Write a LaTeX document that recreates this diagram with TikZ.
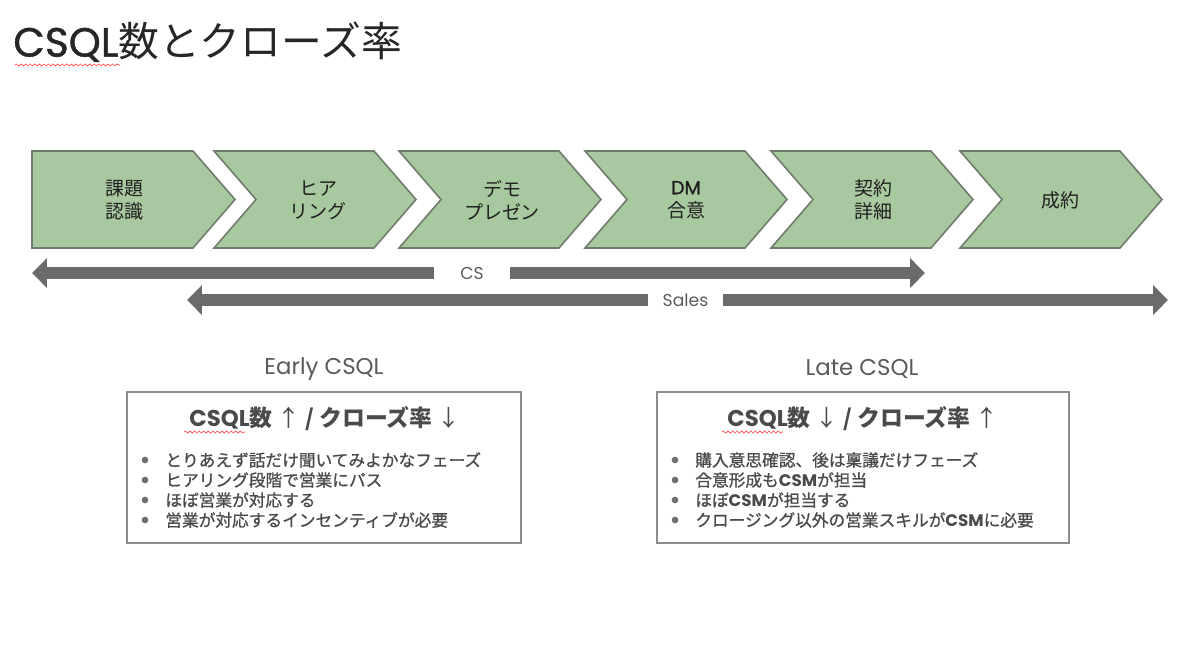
\documentclass[tikz,border=0pt]{standalone}
\usepackage{fontspec}
\setmainfont{Noto Sans CJK JP}
\newfontfamily\latin{Poppins}
\newfontfamily\latinmed[FakeBold=1.2]{Poppins}
\newfontfamily\cjkmed[FakeBold=0.9]{Noto Sans CJK JP}
\usetikzlibrary{arrows.meta,decorations.pathmorphing}

\definecolor{chevfill}{HTML}{A8C89F}
\definecolor{chevline}{HTML}{6F7B6B}
\definecolor{bargray}{HTML}{6B6B6B}
\definecolor{labgray}{HTML}{5A5A5A}
\definecolor{boxline}{HTML}{8C8C8C}
\definecolor{bodygray}{HTML}{4A4A4A}

\newcommand{\csm}{{\latin\bfseries CSM}}

\tikzset{
  chev/.style={fill=chevfill, draw=chevline, line width=0.9pt},
  chevtext/.style={align=center, text=black!88, font=\fontsize{10.8}{13.2}\selectfont},
  barline/.style={draw=bargray, line width=7pt, -{Triangle[length=8.5pt,width=16.5pt]}},
  barlabel/.style={inner sep=0pt, minimum width=1.5cm, text=labgray, font=\latin\fontsize{9.8}{11}\selectfont},
  grouplabel/.style={text=labgray, font=\latin\fontsize{13}{15}\selectfont},
  sumbox/.style={draw=boxline, line width=0.8pt},
  boxhead/.style={text=bodygray, font=\fontsize{13}{15}\selectfont},
  item/.style={anchor=west, inner sep=0pt, text=bodygray, font=\cjkmed\fontsize{9.5}{11}\selectfont},
  typo/.style={draw=red!75, line width=0.35pt, decorate, decoration={snake, amplitude=0.6pt, segment length=2.6pt}}
}

\begin{document}
\begin{tikzpicture}[x=0.02cm, y=-0.02cm]

\useasboundingbox (0,0) rectangle (1200,667);

% title
\node[anchor=west, inner sep=0pt, text=black!85, font=\fontsize{23.2}{26}\selectfont] (title) at (13,42) {{\latinmed CSQL}数とクローズ率};
\draw[typo] (15,65) -- (120,65);

% process chevrons
\draw[chev] (32,151) -- (193,151) -- (235,199.5) -- (193,248) -- (32,248) -- cycle;
\foreach \l in {214,399,585,771,960}
    \draw[chev] (\l,151) -- ++(160,0) -- ++(42,48.5) -- ++(-42,48.5) -- ++(-160,0) -- ++(42,-48.5) -- cycle;

\node[chevtext] (kadai)  at (124,200)  {課題\\認識};
\node[chevtext] (hear)   at (318,200)  {ヒア\\リング};
\node[chevtext] (demo)   at (502,200)  {デモ\\プレゼン};
\node[chevtext] (dm)     at (686,200)  {{\latinmed DM}\\合意};
\node[chevtext] (keiyak) at (873,200)  {契約\\詳細};
\node[chevtext] (seiyak) at (1060,200) {成約};

% CS / Sales ranges
\coordinate (csL) at (32,273);
\coordinate (csR) at (925,273);
\node[barlabel] (cs) at (472,273) {CS};
\draw[barline] (cs.west) -- (csL);
\draw[barline] (cs.east) -- (csR);

\coordinate (slL) at (187,300);
\coordinate (slR) at (1168,300);
\node[barlabel] (sales) at (685.5,300) {Sales};
\draw[barline] (sales.west) -- (slL);
\draw[barline] (sales.east) -- (slR);

% early / late
\node[grouplabel] (earlylab) at (324,369) {Early CSQL};
\node[grouplabel] (latelab)  at (862,369) {Late CSQL};

\draw[sumbox] (127,392) rectangle (521,543);
\draw[sumbox] (657,392) rectangle (1069,543);

\node[boxhead] (earlyhead) at (325,419) {{\latin\bfseries CSQL}\textbf{数} ↑ \textbf{/} \textbf{クローズ率} ↓};
\node[boxhead] (latehead)  at (863,419) {{\latin\bfseries CSQL}\textbf{数} ↓ \textbf{/} \textbf{クローズ率} ↑};
\draw[typo] (184,432) -- (245,432);
\draw[typo] (722,432) -- (783,432);

\foreach \t [count=\i] in {とりあえず話だけ聞いてみよかなフェーズ, ヒアリング段階で営業にパス, ほぼ営業が対応する, 営業が対応するインセンティブが必要} {
    \fill[bodygray!80] (145,440+20*\i) circle (1.9pt);
    \node[item] (e\i) at (165,440+20*\i) {\t};
}

\foreach \t [count=\i] in {購入意思確認、後は稟議だけフェーズ, 合意形成も\csm が担当, ほぼ\csm が担当する, クロージング以外の営業スキルが\csm に必要} {
    \fill[bodygray!80] (675,440+20*\i) circle (1.9pt);
    \node[item] (l\i) at (695,440+20*\i) {\t};
}

\end{tikzpicture}
\end{document}
